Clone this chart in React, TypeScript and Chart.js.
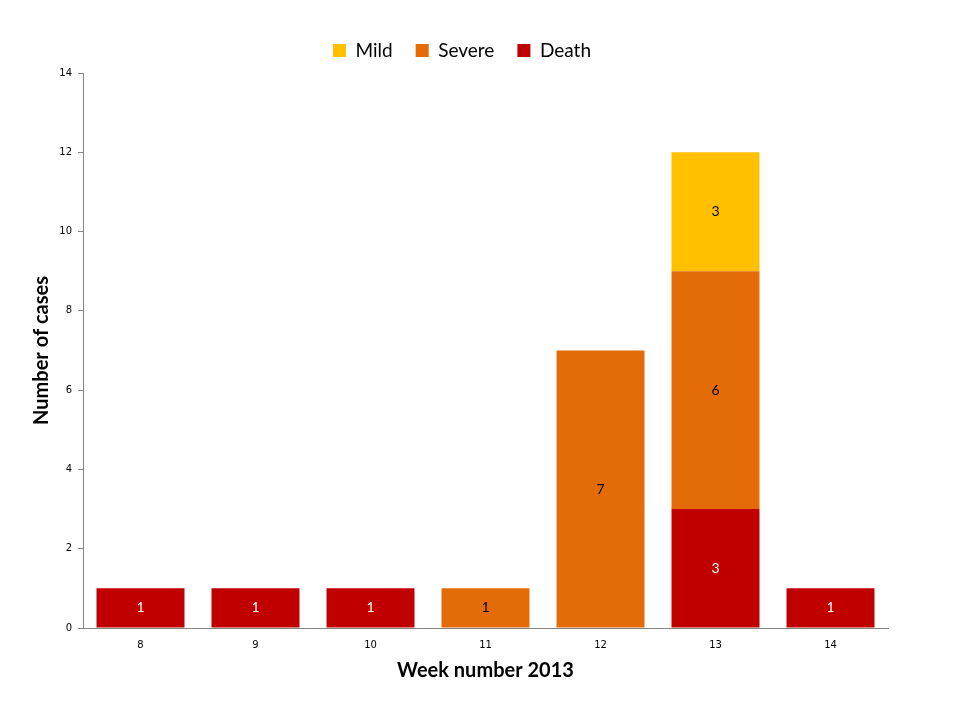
import React, { useEffect, useRef } from "react";
import { Chart, registerables } from "chart.js";

Chart.register(...registerables);

const weeks = ["8", "9", "10", "11", "12", "13", "14"];
const deathValues = [1, 1, 1, 0, 0, 3, 1];
const severeValues = [0, 0, 0, 1, 7, 6, 0];
const mildValues = [0, 0, 0, 0, 0, 3, 0];
const yTicks = [0, 2, 4, 6, 8, 10, 12, 14];

const labelPlugin = {
  id: "barLabels",
  afterDatasetsDraw(chart: any) {
    const ctx = chart.ctx;
    ctx.save();
    ctx.font = "14px Lato";
    ctx.textAlign = "center";
    ctx.textBaseline = "middle";
    chart.data.datasets.forEach((ds: any, di: number) => {
      const meta = chart.getDatasetMeta(di);
      if (meta.hidden) return;
      meta.data.forEach((el: any, i: number) => {
        const v = ds.data[i];
        if (!v) return;
        const { x, y, base } = el.getProps(["x", "y", "base"], true);
        ctx.fillStyle = ds.labelColor;
        ctx.fillText(String(v), x, (y + base) / 2);
      });
    });
    ctx.restore();
  },
};

const legendShift = {
  id: "legendShift",
  afterLayout(chart: any) {
    const lg = chart.legend;
    if (!lg) return;
    lg.left += 18;
    lg.right += 18;
    lg.top -= 3;
    lg.bottom -= 3;
  },
};

export default function App() {
  const ref = useRef<HTMLCanvasElement>(null);
  useEffect(() => {
    if (!ref.current) return;
    const chart = new Chart(ref.current, {
      type: "bar",
      data: {
        labels: weeks,
        datasets: [
          { label: "Death", data: deathValues, backgroundColor: "#C00000", labelColor: "#FFFFFF" } as any,
          { label: "Severe", data: severeValues, backgroundColor: "#E36C09", labelColor: "#000000" } as any,
          { label: "Mild", data: mildValues, backgroundColor: "#FFC000", labelColor: "#000000" } as any,
        ],
      },
      options: {
        animation: false,
        responsive: false,
        maintainAspectRatio: false,
        layout: { padding: { left: 0, right: 72, top: 21, bottom: 37 } },
        datasets: { bar: { barPercentage: 0.765, categoryPercentage: 1 } },
        plugins: {
          legend: {
            position: "top",
            reverse: true,
            labels: {
              boxWidth: 13,
              boxHeight: 13,
              padding: 23,
              color: "#000",
              font: { family: "Lato", size: 19 },
            },
          },
          tooltip: { enabled: false },
        },
        scales: {
          x: {
            stacked: true,
            grid: { display: false, drawTicks: false },
            border: { display: true, color: "#868686", width: 1 },
            ticks: { color: "#000", padding: 11, font: { family: "DejaVu Sans", size: 10 } },
            title: {
              display: true,
              text: "Week number 2013",
              color: "#000",
              padding: { top: 0, bottom: 0 },
              font: { family: "Lato", size: 20, weight: "bold" },
            },
            afterFit: (s: any) => {
              s.height = 55;
            },
          },
          y: {
            stacked: true,
            min: 0,
            max: 14,
            afterBuildTicks: (s: any) => {
              s.ticks = yTicks.map((v) => ({ value: v }));
            },
            grid: { display: true, drawOnChartArea: false, drawTicks: true, tickLength: 5, color: "#868686" },
            border: { display: true, color: "#868686", width: 1 },
            ticks: { color: "#000", padding: 6, font: { family: "DejaVu Sans", size: 10 } },
            title: {
              display: true,
              text: "Number of cases",
              color: "#000",
              padding: { top: 30, bottom: 0 },
              font: { family: "Lato", size: 20, weight: "bold" },
            },
            afterFit: (s: any) => {
              s.width = 83;
            },
          },
        },
      },
      plugins: [labelPlugin, legendShift],
    });
    return () => chart.destroy();
  }, []);
  return (
    <div style={{ position: "fixed", left: 0, top: 0, width: 960, height: 720, background: "#fff" }}>
      <canvas ref={ref} width={960} height={720} style={{ width: 960, height: 720 }} />
    </div>
  );
}
